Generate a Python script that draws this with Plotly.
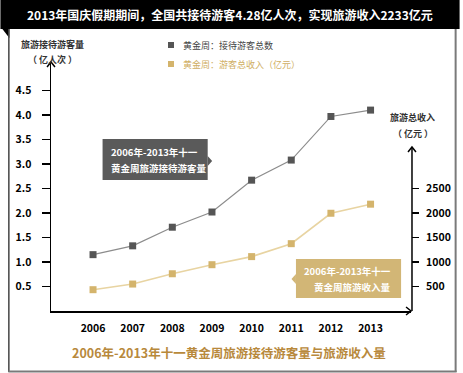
import plotly.graph_objects as go

years = ["2006", "2007", "2008", "2009", "2010", "2011", "2012", "2013"]
visitors = [1.15, 1.33, 1.71, 2.02, 2.67, 3.08, 3.97, 4.10]          # 亿人次
revenue = [435, 550, 760, 945, 1110, 1374, 1995, 2180]              # 亿元
left_ticks = [0.5, 1.0, 1.5, 2.0, 2.5, 3.0, 3.5, 4.0, 4.5]
right_ticks = [500, 1000, 1500, 2000, 2500]

W, H = 463, 373
L, R, T, B = 51, 414, 62, 311
FONT = "Noto Sans CJK SC"

def px(X):
    return (X - L) / (R - L)

def py(Y):
    return (B - Y) / (B - T)

GRAY_M = "#555555"
GRAY_L = "#8c8c8c"
GOLD_M = "#d4b46c"
GOLD_L = "#e8d4a2"

fig = go.Figure()
fig.add_trace(go.Scatter(x=years, y=visitors, mode="lines+markers",
                         line=dict(color=GRAY_L, width=1.2),
                         marker=dict(symbol="square", size=7, color=GRAY_M),
                         showlegend=False, cliponaxis=False))
fig.add_trace(go.Scatter(x=years, y=revenue, mode="lines+markers", yaxis="y2",
                         line=dict(color=GOLD_L, width=1.6),
                         marker=dict(symbol="square", size=7, color=GOLD_M),
                         showlegend=False, cliponaxis=False))
# downward triangle tick marks under x axis
fig.add_trace(go.Scatter(x=years, y=[-3.5 / 49] * len(years), mode="markers",
                         marker=dict(symbol="triangle-down", size=7, color="black"),
                         showlegend=False, cliponaxis=False, hoverinfo="skip"))

ymax = (B - T) / 49.0

shapes = []
ann = []

# title bar
shapes.append(dict(type="rect", xref="paper", yref="paper", x0=px(0), x1=px(W), y0=py(29), y1=py(0),
                   fillcolor="black", line=dict(width=0), layer="below"))
shapes.append(dict(type="path", xref="paper", yref="paper",
                   path=f"M {px(2)} {py(29)} L {px(9)} {py(29)} L {px(9)} {py(38)} Z",
                   fillcolor="black", line=dict(width=0)))
# frame
shapes.append(dict(type="line", xref="paper", yref="paper", x0=px(8.5), x1=px(8.5), y0=py(29), y1=py(372),
                   line=dict(color="#444444", width=1.5)))
shapes.append(dict(type="line", xref="paper", yref="paper", x0=px(459), x1=px(459), y0=py(29), y1=py(372),
                   line=dict(color="#7a7a7a", width=2)))
shapes.append(dict(type="line", xref="paper", yref="paper", x0=px(8), x1=px(460), y0=py(371.5), y1=py(371.5),
                   line=dict(color="#7a7a7a", width=2)))
# left axis arrow
shapes.append(dict(type="path", xref="paper", yref="paper",
                   path=f"M {px(47)} {py(67)} L {px(51)} {py(62)} L {px(55)} {py(67)}",
                   line=dict(color="black", width=1.5)))
# right axis line and arrow
shapes.append(dict(type="line", xref="paper", yref="paper", x0=px(415), x1=px(415), y0=py(147), y1=py(311),
                   line=dict(color="black", width=1.5)))
shapes.append(dict(type="path", xref="paper", yref="paper",
                   path=f"M {px(411)} {py(152)} L {px(415)} {py(147)} L {px(419)} {py(152)}",
                   line=dict(color="black", width=1.5)))
# x axis arrow
shapes.append(dict(type="path", xref="paper", yref="paper",
                   path=f"M {px(409)} {py(307)} L {px(414)} {py(311)} L {px(409)} {py(315)}",
                   line=dict(color="black", width=1.5)))
# gray callout box
shapes.append(dict(type="rect", xref="paper", yref="paper", x0=px(103), x1=px(209), y0=py(180), y1=py(139),
                   fillcolor="#5a5a5a", line=dict(width=0)))
shapes.append(dict(type="path", xref="paper", yref="paper",
                   path=f"M {px(209)} {py(156)} L {px(213.5)} {py(161)} L {px(209)} {py(166)} Z",
                   fillcolor="#5a5a5a", line=dict(width=0)))
# gold callout box
shapes.append(dict(type="rect", xref="paper", yref="paper", x0=px(298), x1=px(404), y0=py(298), y1=py(259),
                   fillcolor="#d2b676", line=dict(width=0)))
shapes.append(dict(type="path", xref="paper", yref="paper",
                   path=f"M {px(298)} {py(274)} L {px(293.5)} {py(279)} L {px(298)} {py(284)} Z",
                   fillcolor="#d2b676", line=dict(width=0)))
# legend squares
shapes.append(dict(type="rect", xref="paper", yref="paper", x0=px(169), x1=px(175), y0=py(48), y1=py(42),
                   fillcolor=GRAY_M, line=dict(width=0)))
shapes.append(dict(type="rect", xref="paper", yref="paper", x0=px(169), x1=px(175), y0=py(67), y1=py(61),
                   fillcolor=GOLD_M, line=dict(width=0)))

def text(X, Y, s, size, color, xanchor="center", bold=True):
    ann.append(dict(xref="paper", yref="paper", x=px(X), y=py(Y), text=(f"<b>{s}</b>" if bold else s),
                    showarrow=False, xanchor=xanchor, yanchor="middle",
                    font=dict(family=FONT, size=size, color=color)))

text(231.5, 14.5, "2013年国庆假期期间，全国共接待游客4.28亿人次，实现旅游收入2233亿元", 12, "white")
text(53, 44, "旅游接待游客量", 9, "#333333")
text(53, 59, "（ 亿人次 ）", 9, "#333333")
text(416, 117, "旅游总收入", 9, "#333333")
text(416, 133, "（ 亿元 ）", 9, "#333333")
text(182, 45, "黄金周：接待游客总数", 9, "#444444", "left", bold=False)
text(182, 64, "黄金周：游客总收入（亿元）", 9, "#cfae62", "left", bold=False)
text(109, 152, "2006年-2013年十一", 9.5, "white", "left")
text(109, 168, "黄金周旅游接待游客量", 9.5, "white", "left")
text(396, 271, "2006年-2013年十一", 9.5, "white", "right")
text(396, 287, "黄金周旅游收入量", 9.5, "white", "right")
text(230, 353, "2006年-2013年十一黄金周旅游接待游客量与旅游收入量", 12.5, "#b8893c")

fig.update_layout(
    width=W, height=H,
    margin=dict(l=L, r=W - R, t=T, b=H - B, pad=0),
    paper_bgcolor="white", plot_bgcolor="white",
    shapes=shapes, annotations=ann, hovermode=False,
    xaxis=dict(type="category", range=[-1.06, 8.02], showgrid=False, zeroline=False,
               showline=True, linecolor="black", linewidth=1.5, ticks="",
               tickvals=years, ticktext=[f"<b>{y}</b>" for y in years],
               tickfont=dict(family=FONT, size=10.5, color="black"), ticklabelstandoff=7),
    yaxis=dict(range=[0, ymax], showgrid=False, zeroline=False, showline=True,
               linecolor="black", linewidth=1.5, ticks="outside", ticklen=8, tickwidth=1.5,
               tickcolor="black", tickvals=left_ticks,
               ticktext=[f"<b>{v:.1f}</b>" for v in left_ticks],
               tickfont=dict(family=FONT, size=10.5, color="black"), ticklabelstandoff=8),
    yaxis2=dict(range=[0, ymax * 1000], overlaying="y", side="right", anchor="x",
                showgrid=False, zeroline=False, showline=False, ticks="outside", ticklen=7,
                tickwidth=1.5, tickcolor="black", tickvals=right_ticks,
                ticktext=[f"<b>{v}</b>" for v in right_ticks],
                tickfont=dict(family=FONT, size=10.5, color="black"), ticklabelstandoff=5),
)

fig.write_html("out.html", config={"displayModeBar": False, "staticPlot": True},
               post_script="document.body.style.margin='0';document.body.style.overflow='hidden';")
